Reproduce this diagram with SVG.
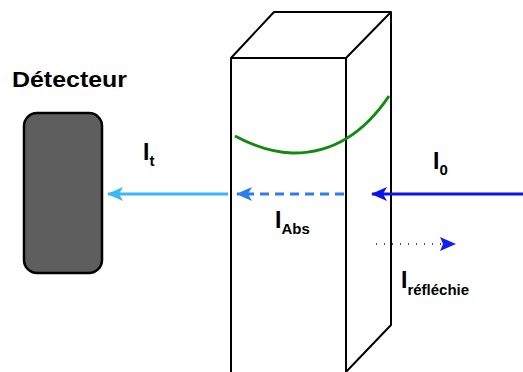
<svg xmlns="http://www.w3.org/2000/svg" width="523" height="372" viewBox="0 0 523 372">
  <style>
    .edge { fill: none; stroke: #000; stroke-width: 2; stroke-linejoin: round; }
    .lbl { font-family: "Liberation Sans", Arial, sans-serif; font-weight: bold; fill: #000; }
    .main { font-size: 23px; }
    .sub { font-size: 15px; }
  </style>
  <defs>
    <!-- notched arrowheads, tip at the end of each beam -->
    <marker id="headBlue" viewBox="0 0 16 14" refX="15" refY="7" markerWidth="16" markerHeight="14" markerUnits="userSpaceOnUse" orient="auto">
      <path d="M16,7 L0,0 L4,7 L0,14 Z" fill="#0a14e6"/>
    </marker>
    <marker id="headDash" viewBox="0 0 16 14" refX="15" refY="7" markerWidth="16" markerHeight="14" markerUnits="userSpaceOnUse" orient="auto">
      <path d="M16,7 L0,0 L4,7 L0,14 Z" fill="#2a7ef0"/>
    </marker>
    <marker id="headLight" viewBox="0 0 16 14" refX="15" refY="7" markerWidth="16" markerHeight="14" markerUnits="userSpaceOnUse" orient="auto">
      <path d="M16,7 L0,0 L4,7 L0,14 Z" fill="#3db6f6"/>
    </marker>
    <marker id="headDot" viewBox="0 0 16 14" refX="15" refY="7" markerWidth="16" markerHeight="14" markerUnits="userSpaceOnUse" orient="auto">
      <path d="M16,7 L0,0 L3,7 L0,14 Z" fill="#1020f0"/>
    </marker>
  </defs>

  <!-- sample cuvette drawn in perspective -->
  <g id="cuvette">
    <path class="edge" d="M231,372 L231,58 L346,58 L346,372"/>
    <path class="edge" d="M231,58 L274,12 L391,12 L346,58"/>
    <path class="edge" d="M391,12 L391,325 L346,372"/>
    <path d="M235,136 Q265,152 292,153 Q350,154 389,96" fill="none" stroke="#128a12" stroke-width="3"/>
  </g>

  <!-- detector -->
  <g id="detecteur">
    <rect x="24" y="113" width="78" height="160" rx="13" ry="13" fill="#5e5e5e" stroke="#000" stroke-width="2.5"/>
    <text class="lbl" x="12" y="87" font-size="22" textLength="115" lengthAdjust="spacingAndGlyphs">Détecteur</text>
  </g>

  <!-- beams -->
  <g id="connectors">
    <line x1="523" y1="194" x2="372" y2="194" stroke="#0a14e6" stroke-width="3" marker-end="url(#headBlue)"/>
    <line x1="344" y1="194" x2="237" y2="194" stroke="#2a7ef0" stroke-width="3" stroke-dasharray="9,6" marker-end="url(#headDash)"/>
    <line x1="228" y1="194" x2="108" y2="194" stroke="#3db6f6" stroke-width="3" marker-end="url(#headLight)"/>
    <line x1="376" y1="244" x2="455" y2="244" stroke="#3040f0" stroke-width="2" stroke-dasharray="1,7" marker-end="url(#headDot)"/>
  </g>

  <!-- beam labels -->
  <g id="label-It">
    <text class="lbl" x="143" y="160"><tspan class="main">I</tspan><tspan class="sub" dy="6">t</tspan></text>
  </g>
  <g id="label-I0">
    <text class="lbl" x="433" y="169"><tspan class="main">I</tspan><tspan class="sub" dy="6">0</tspan></text>
  </g>
  <g id="label-IAbs">
    <text class="lbl" x="275" y="228"><tspan class="main">I</tspan><tspan class="sub" dy="6">Abs</tspan></text>
  </g>
  <g id="label-Iref">
    <text class="lbl" x="401" y="288"><tspan class="main">I</tspan><tspan class="sub" dy="7">réfléchie</tspan></text>
  </g>
</svg>
